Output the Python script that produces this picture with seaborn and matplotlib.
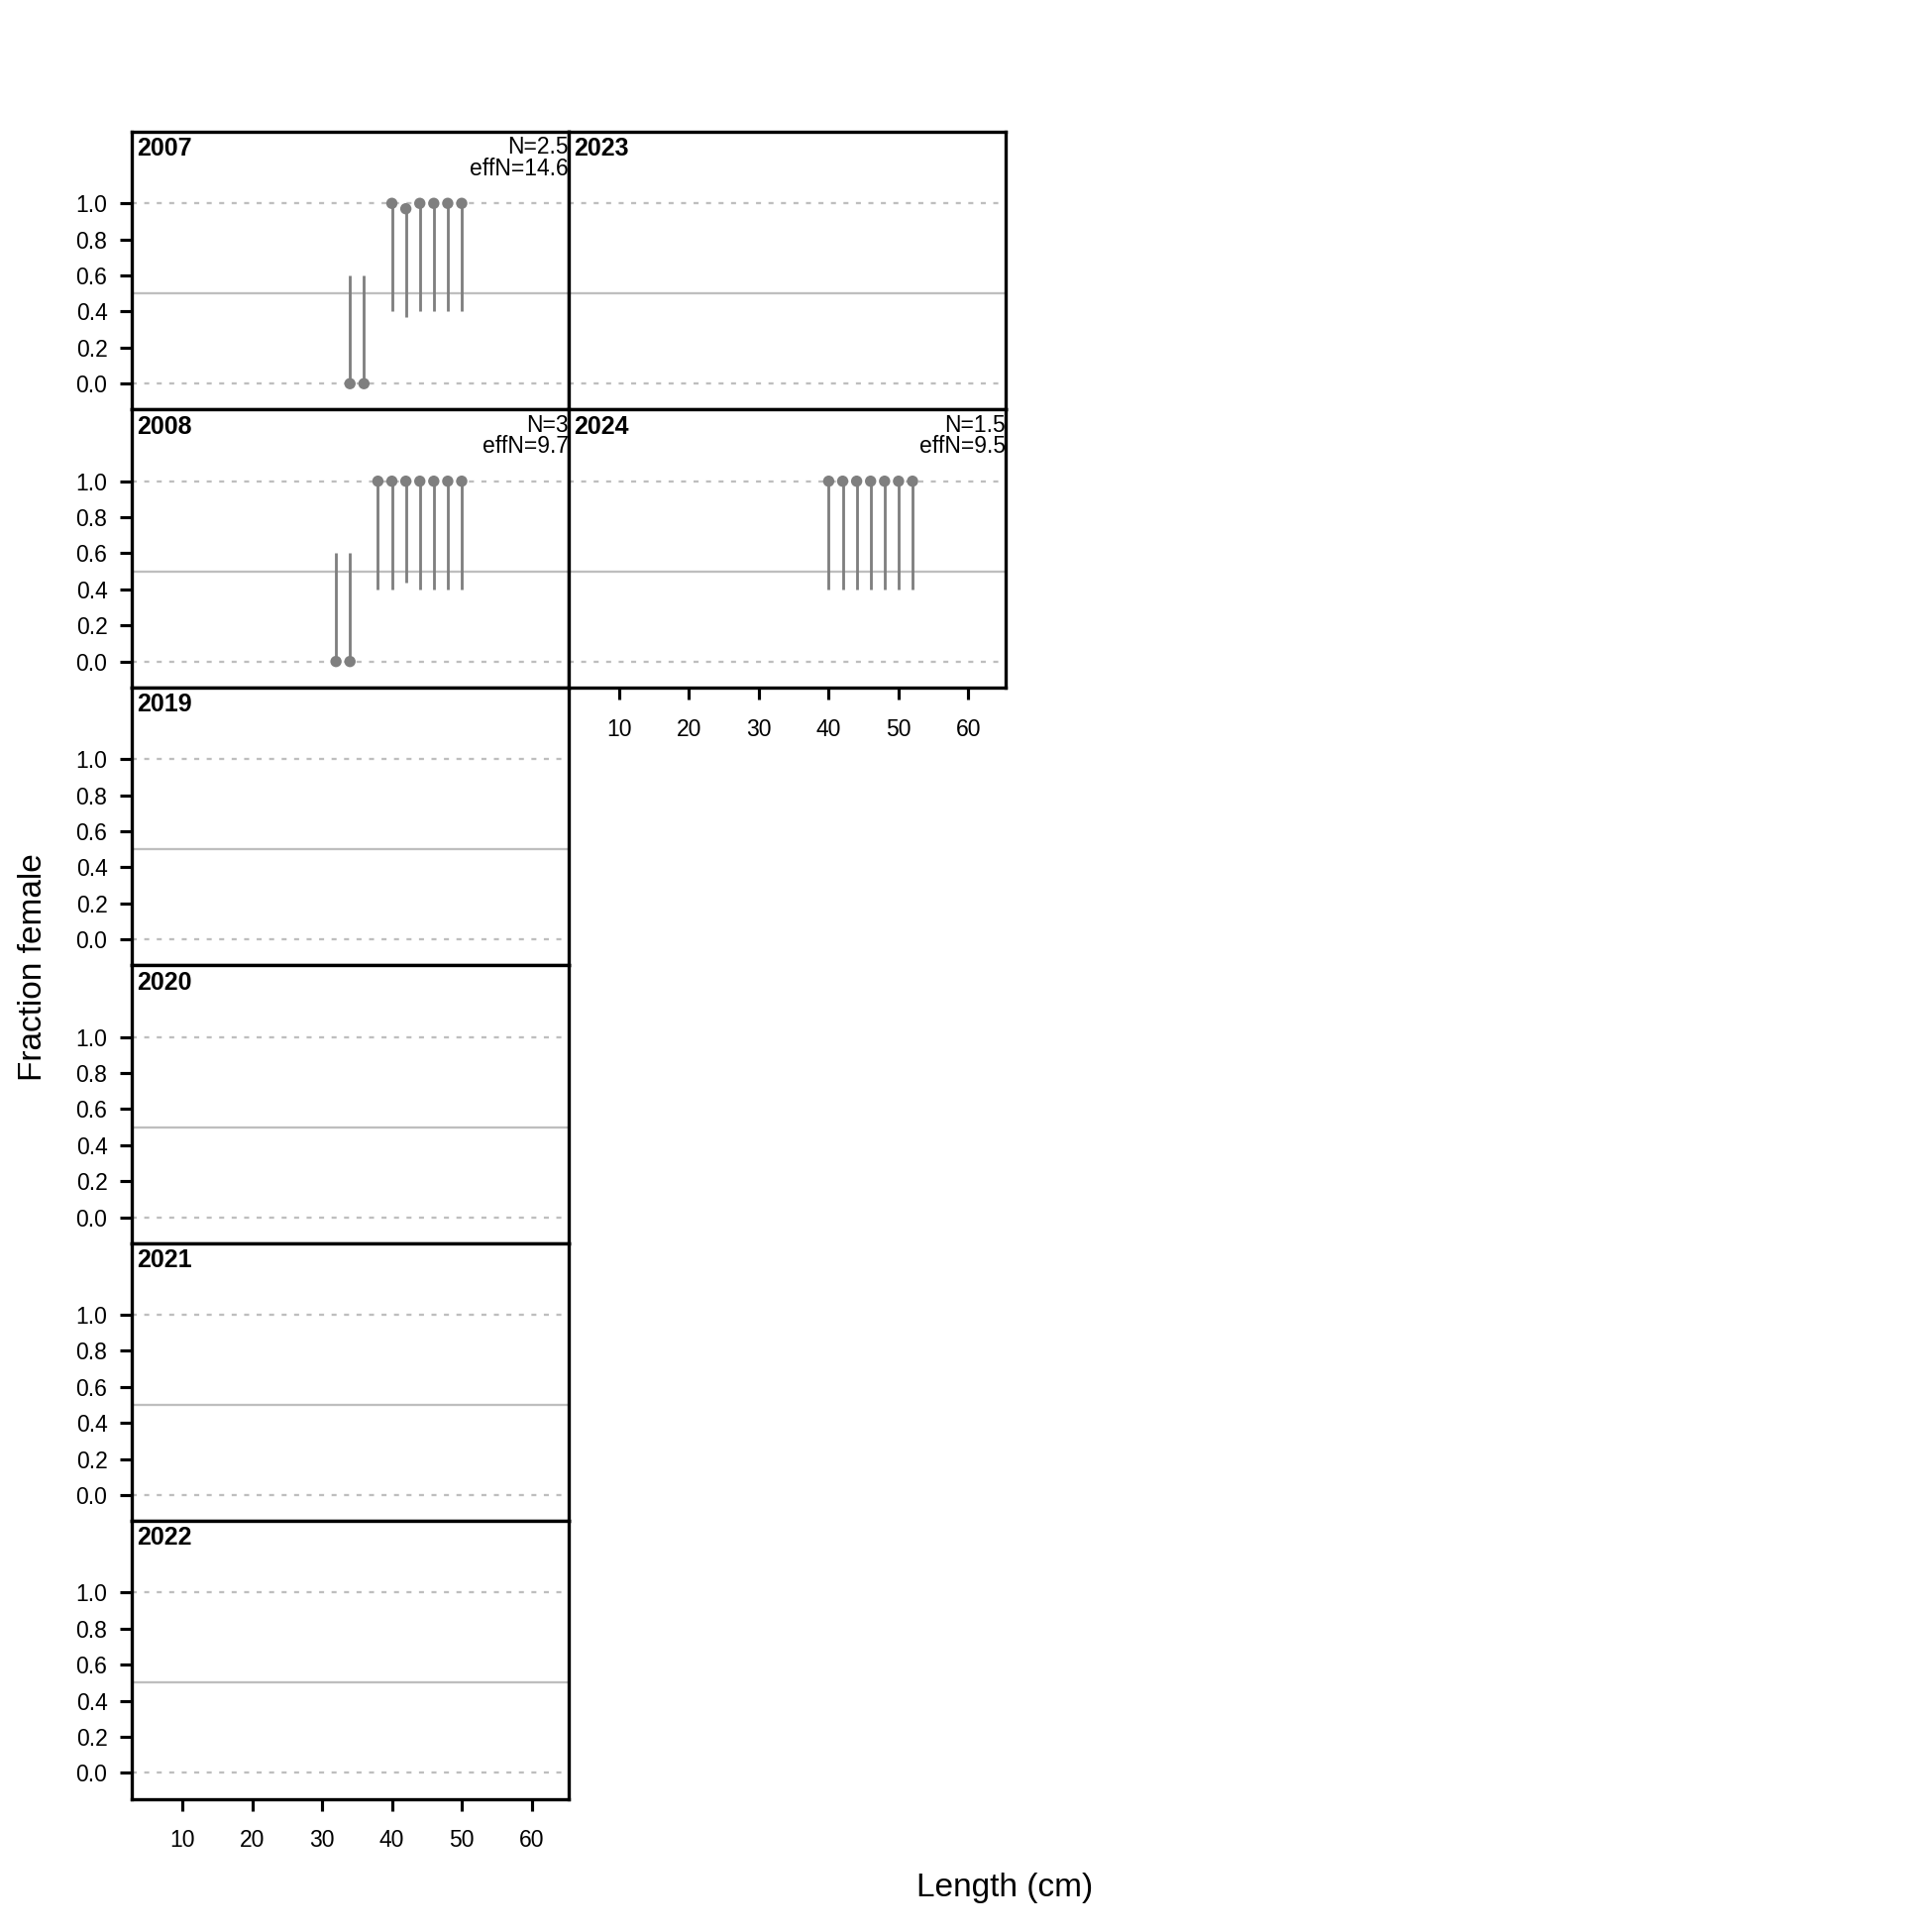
import numpy as np
import pandas as pd
import seaborn as sns
import matplotlib.pyplot as plt

# panel order (filled column-wise, like R mfcol)
years = [2007, 2008, 2019, 2020, 2021, 2022, 2023, 2024]

# observed fraction female with interval, per year (only years with data)
len_2007 = [34, 36, 40, 42, 44, 46, 48, 50]
obs_2007 = [0.0, 0.0, 1.0, 0.97, 1.0, 1.0, 1.0, 1.0]
lo_2007 = [0.0, 0.0, 0.40, 0.37, 0.40, 0.40, 0.40, 0.40]
hi_2007 = [0.60, 0.60, 1.0, 0.97, 1.0, 1.0, 1.0, 1.0]

len_2008 = [32, 34, 38, 40, 42, 44, 46, 48, 50]
obs_2008 = [0.0, 0.0, 1.0, 1.0, 1.0, 1.0, 1.0, 1.0, 1.0]
lo_2008 = [0.0, 0.0, 0.40, 0.40, 0.44, 0.40, 0.40, 0.40, 0.40]
hi_2008 = [0.60, 0.60, 1.0, 1.0, 1.0, 1.0, 1.0, 1.0, 1.0]

len_2024 = [40, 42, 44, 46, 48, 50, 52]
obs_2024 = [1.0, 1.0, 1.0, 1.0, 1.0, 1.0, 1.0]
lo_2024 = [0.40, 0.40, 0.40, 0.40, 0.40, 0.40, 0.40]
hi_2024 = [1.0, 1.0, 1.0, 1.0, 1.0, 1.0, 1.0]

n_labels = {2007: "N=2.5\neffN=14.6", 2008: "N=3\neffN=9.7", 2024: "N=1.5\neffN=9.5"}

x_ticks = [10, 20, 30, 40, 50, 60]
y_ticks = [0.0, 0.2, 0.4, 0.6, 0.8, 1.0]

frames = []
for yr, l, o, lo, hi in [(2007, len_2007, obs_2007, lo_2007, hi_2007),
                         (2008, len_2008, obs_2008, lo_2008, hi_2008),
                         (2024, len_2024, obs_2024, lo_2024, hi_2024)]:
    frames.append(pd.DataFrame({"year": yr, "length": l, "obs": o, "lo": lo, "hi": hi}))
df = pd.concat(frames, ignore_index=True)

sns.set_style("ticks")
plt.rcParams.update({
    "font.family": ["Liberation Sans", "DejaVu Sans"],
    "text.color": "black",
    "axes.labelcolor": "black",
    "xtick.color": "black",
    "ytick.color": "black",
})

fig = plt.figure(figsize=(13, 13), dpi=150)
gs = fig.add_gridspec(6, 2, left=0.0682, right=0.5204, top=0.9318, bottom=0.0689,
                      hspace=0, wspace=0)

grey_pt = "#7F7F7F"
for i, yr in enumerate(years):
    col, row = divmod(i, 6)
    ax = fig.add_subplot(gs[row, col])
    ax.set_xlim(2.76, 65.3)
    ax.set_ylim(-0.144, 1.397)

    ax.axhline(0.5, color="#BEBEBE", lw=1.1, zorder=1)
    for h in (0.0, 1.0):
        ax.axhline(h, color="#BEBEBE", lw=1.1, ls=(0, (2.2, 3.3)), zorder=1)

    sub = df[df["year"] == yr]
    if len(sub):
        ax.vlines(sub["length"], sub["lo"], sub["hi"], color=grey_pt, lw=1.35, zorder=2)
        sns.scatterplot(data=sub, x="length", y="obs", ax=ax, color=grey_pt,
                        s=30, edgecolor="none", zorder=3, legend=False)

    ax.set_xlabel("")
    ax.set_ylabel("")
    for sp in ax.spines.values():
        sp.set_visible(True)
        sp.set_linewidth(1.6)
        sp.set_color("black")
        sp.set_zorder(5)

    ax.tick_params(direction="out", length=5.8, width=1.5, labelsize=11, color="black")
    if col == 0:
        ax.set_yticks(y_ticks)
        ax.set_yticklabels([f"{v:.1f}" for v in y_ticks])
        ax.tick_params(axis="y", pad=6)
    else:
        ax.set_yticks([])
    last_in_col = (col == 0 and row == 5) or (col == 1 and i == len(years) - 1)
    if last_in_col:
        ax.set_xticks(x_ticks)
        ax.tick_params(axis="x", pad=9)
    else:
        ax.set_xticks([])

    ax.annotate(str(yr), xy=(0, 1), xycoords="axes fraction", xytext=(2.5, -2.5),
                textcoords="offset points", ha="left", va="top",
                fontsize=12, fontweight="bold")
    if yr in n_labels:
        ax.annotate(n_labels[yr], xy=(1, 1), xycoords="axes fraction", xytext=(0, -2),
                    textcoords="offset points", ha="right", va="top",
                    fontsize=11, linespacing=0.92)

fig.text(0.017, 0.4994, "Fraction female", rotation=90, ha="center", va="center",
         fontsize=16)
fig.text(0.52, 0.023, "Length (cm)", ha="center", va="center", fontsize=16)

fig.savefig("out.png", dpi=150, facecolor="white")
